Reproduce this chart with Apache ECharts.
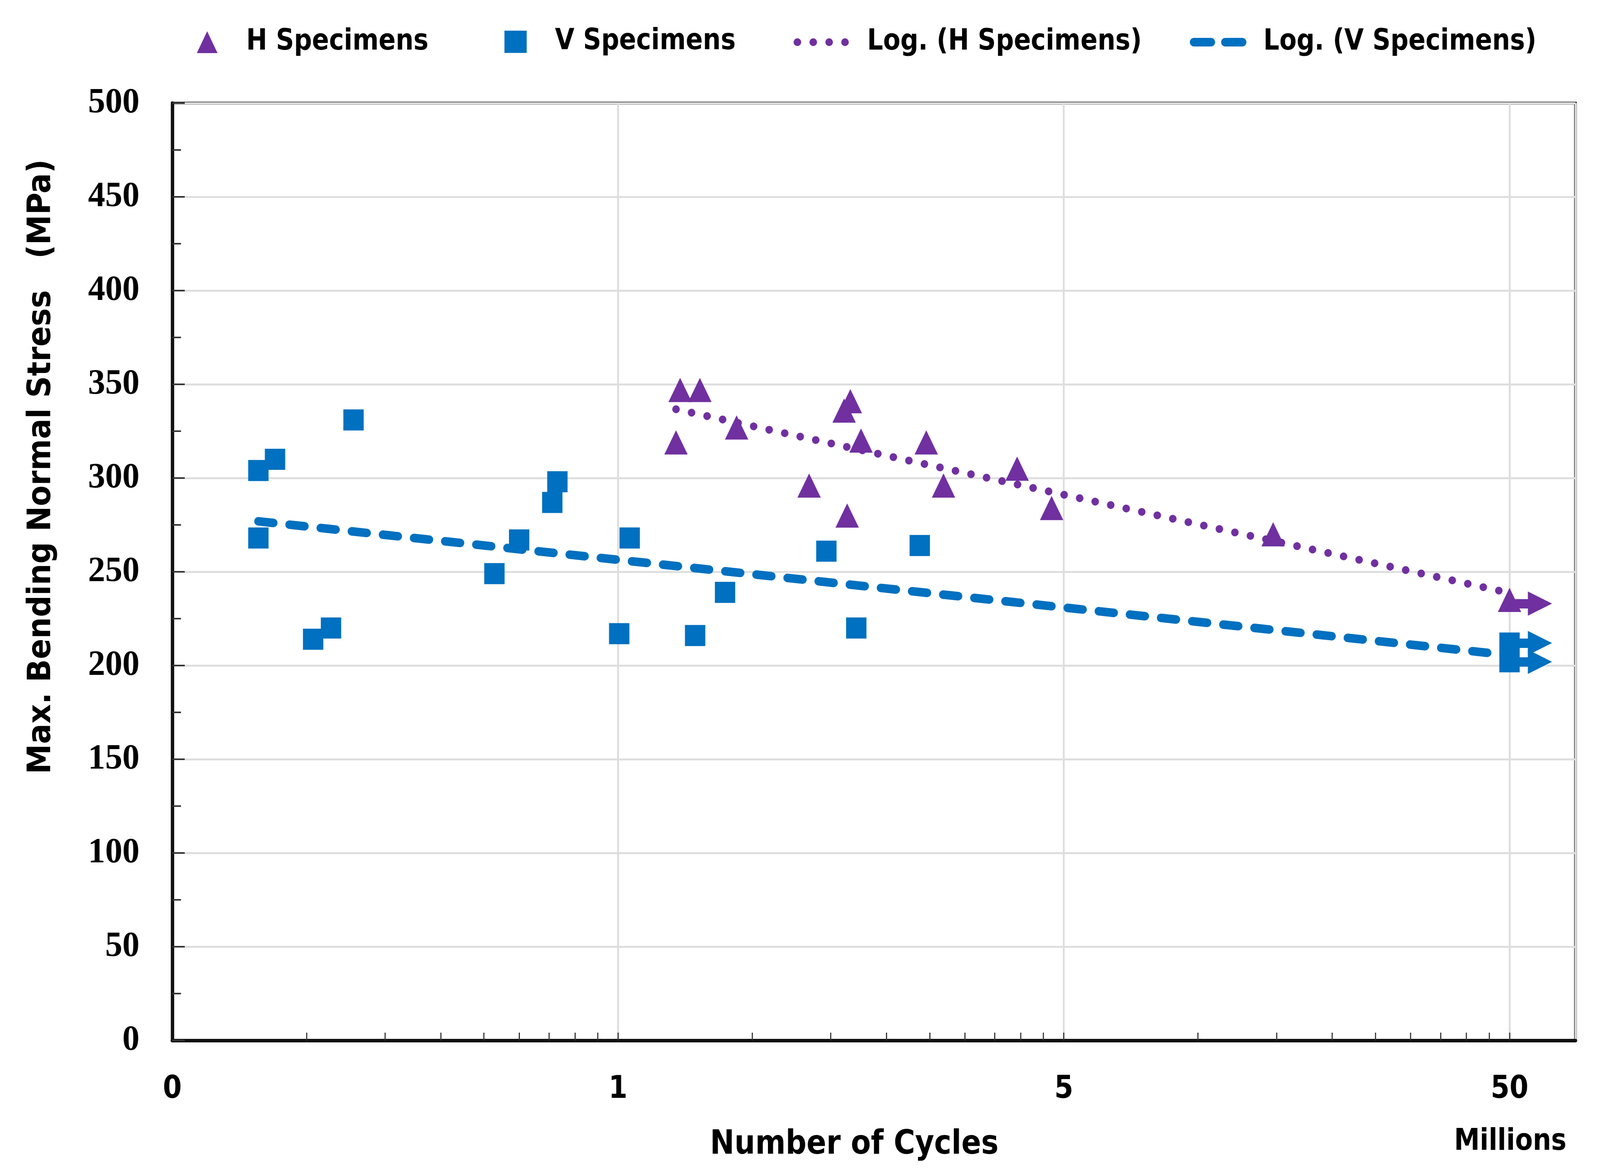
<!DOCTYPE html>
<html>
<head>
<meta charset="utf-8">
<script src="https://cdn.jsdelivr.net/npm/echarts@6/dist/echarts.min.js"></script>
<style>
html,body{margin:0;padding:0;background:#fff;overflow:hidden;}
#chart{width:4244px;height:3006px;transform-origin:0 0;}
</style>
</head>
<body>
<div id="chart"></div>
<script>
// ---- data (x in millions of cycles on the log axis, y in MPa) ----
const hX = [1.378, 1.526, 1.349, 1.845, 3.215, 3.320, 3.508, 2.683, 3.266, 4.914, 5.372, 7.857, 9.39, 29.49, 100];
const hY = [347, 347, 319, 327, 336, 341, 320, 296, 280, 319, 296, 305, 284, 270, 235];
const vX = [0.156, 0.156, 0.170, 0.255, 0.207, 0.227, 0.528, 0.600, 0.731, 0.712, 1.062, 1.006, 1.489, 1.738, 2.933, 3.423, 4.752, 100, 100];
const vY = [304, 268, 310, 331, 214, 220, 249, 267, 298, 287, 268, 217, 216, 239, 261, 220, 264, 212, 202];
// logarithmic trend lines (end points)
const hTrendX = [1.349, 100];
const hTrendY = [336.7, 238.7];
const vTrendX = [0.156, 100];
const vTrendY = [276.9, 205.5];
// run-out arrows (specimens that did not fail)
const runoutStartX = 100;
const runoutEndX = 117;
const runoutHY = [233];
const runoutVY = [212, 202];
// axis ticks / labels
const xTickLabels = ['0', '1', '5', '50'];
const xTickValues = [0.2,0.3,0.4,0.5,0.6,0.7,0.8,0.9,1,2,3,4,5,6,7,8,9,10,20,30,40,50,60,70,80,90,100];

const PURPLE = '#7030A0';
const BLUE = '#0070C0';
const SANS = '"DejaVu Sans Condensed", "DejaVu Sans", sans-serif';
const SERIF = '"Liberation Serif", "DejaVu Serif", serif';

// fit the 4244x3006 drawing into the actual viewport
const el = document.getElementById('chart');
el.style.transform = 'scale(' + (window.innerWidth / 4244) + ',' + (window.innerHeight / 3006) + ')';

const zip = (xs, ys) => xs.map((x, i) => [x, ys[i]]);
const arrows = ys => ys.map(y => [{coord: [runoutStartX, y]}, {coord: [runoutEndX, y]}]);

const chart = echarts.init(el, null, {renderer: 'canvas', width: 4244, height: 3006});

const legendText = {fontFamily: SANS, fontWeight: 'bold', fontSize: 74, color: '#000'};
function legendAt(name, left, w, h, top, gap, extra) {
  return Object.assign({
    data: [name], left: left, top: top, itemWidth: w, itemHeight: h,
    selectedMode: false,
    textStyle: Object.assign({}, legendText, {padding: [0, 0, 0, gap]})
  }, extra || {});
}

const logAxisBase = {type: 'log', logBase: 10, min: 0.1, max: 140.6, splitNumber: 3};

const option = {
  backgroundColor: '#fff',
  animation: false,
  grid: {left: 457, top: 264, right: 65, bottom: 342, show: true, borderColor: '#262626', borderWidth: 7, backgroundColor: 'transparent'},
  legend: [
    legendAt('H Specimens', 517, 55, 56, 66, 71),
    legendAt('V Specimens', 1333, 59, 57, 65, 70),
    legendAt('Log. (H Specimens)', 2090, 150, 56, 66, 40,
      {itemStyle: {opacity: 0}, lineStyle: {width: 20, type: [0.1, 42], cap: 'round', dashOffset: -10}}),
    legendAt('Log. (V Specimens)', 3140, 150, 56, 66, 40,
      {itemStyle: {opacity: 0}, lineStyle: {width: 22, type: [45, 38], cap: 'round', dashOffset: -11}})
  ],
  xAxis: [
    Object.assign({}, logAxisBase, {
      name: 'Number of Cycles', nameLocation: 'middle', nameGap: 225,
      nameTextStyle: {fontFamily: SANS, fontWeight: 'bold', fontSize: 86, color: '#000', padding: [0, 104, 0, 0]},
      axisLine: {show: true, lineStyle: {color: '#111', width: 9}},
      axisTick: {show: true, inside: true, length: 20, customValues: xTickValues, lineStyle: {color: '#333', width: 3}},
      minorTick: {show: false},
      axisLabel: {
        margin: 86, fontFamily: SANS, fontWeight: 'bold', fontSize: 80, color: '#000',
        formatter: v => {
          const k = Math.log10(v);
          const r = Math.round(k);
          return Math.abs(k - r) < 1e-6 ? (xTickLabels[r + 1] || '') : '';
        }
      },
      splitLine: {show: false}
    }),
    Object.assign({}, logAxisBase, {
      position: 'bottom', axisLine: {show: false}, axisTick: {show: false}, axisLabel: {show: false},
      splitLine: {show: true, lineStyle: {color: '#dedede', width: 5}}
    })
  ],
  yAxis: {
    type: 'value', min: 0, max: 500, interval: 50,
    axisLine: {show: true, lineStyle: {color: '#111', width: 9}},
    axisTick: {show: true, inside: true, length: 33, lineStyle: {color: '#333', width: 4}},
    minorTick: {show: true, splitNumber: 2, length: 23, lineStyle: {color: '#333', width: 4}},
    axisLabel: {margin: 87, fontFamily: SERIF, fontWeight: 'bold', fontSize: 91, color: '#000'},
    splitLine: {show: true, lineStyle: {color: '#dedede', width: 5}}
  },
  graphic: [
    {type: 'text', x: 111, y: 1195, rotation: Math.PI / 2,
     style: {text: 'Max. Bending Normal Stress   (MPa)', fontFamily: SANS, fontWeight: 'bold', fontSize: 86, fill: '#000', align: 'center', verticalAlign: 'middle'}},
    {type: 'text', x: 4006, y: 2924,
     style: {text: 'Millions', fontFamily: SANS, fontWeight: 'bold', fontSize: 76, fill: '#000', align: 'center', verticalAlign: 'middle'}}
  ],
  series: [
    {
      name: 'Log. (H Specimens)', type: 'line', data: zip(hTrendX, hTrendY),
      symbol: 'none', z: 3,
      lineStyle: {color: PURPLE, width: 20, type: [0.1, 42], cap: 'round'},
      itemStyle: {color: PURPLE}
    },
    {
      name: 'Log. (V Specimens)', type: 'line', data: zip(vTrendX, vTrendY),
      symbol: 'none', z: 3,
      lineStyle: {color: BLUE, width: 22, type: [40, 43], cap: 'round'},
      itemStyle: {color: BLUE}
    },
    {
      name: 'H Specimens', type: 'scatter', data: zip(hX, hY),
      symbol: 'triangle', symbolSize: [62, 62], z: 4,
      itemStyle: {color: PURPLE, opacity: 1},
      markLine: {
        silent: true, symbol: ['none', 'triangle'], symbolSize: [62, 64],
        label: {show: false},
        lineStyle: {color: PURPLE, width: 24, type: 'solid'},
        data: arrows(runoutHY)
      }
    },
    {
      name: 'V Specimens', type: 'scatter', data: zip(vX, vY),
      symbol: 'rect', symbolSize: [54, 54], z: 4,
      itemStyle: {color: BLUE, opacity: 1},
      markLine: {
        silent: true, symbol: ['none', 'triangle'], symbolSize: [62, 64],
        label: {show: false},
        lineStyle: {color: BLUE, width: 24, type: 'solid'},
        data: arrows(runoutVY)
      }
    }
  ]
};
chart.setOption(option);
</script>
</body>
</html>
